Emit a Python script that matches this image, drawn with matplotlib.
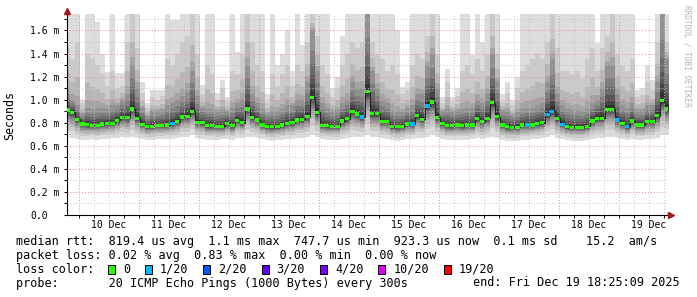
import numpy as np
import pandas as pd
import matplotlib
matplotlib.use("Agg")
import matplotlib.pyplot as plt
import matplotlib.dates as mdates
from matplotlib.patches import Rectangle

# 2-hour samples starting Dec 9 18:12 (values in ms)
median = [
    0.91, 0.89, 0.83, 0.79, 0.785, 0.778, 0.778, 0.79, 0.795, 0.795,
    0.82, 0.847, 0.845, 0.92, 0.84, 0.787, 0.766, 0.77, 0.775, 0.775,
    0.78, 0.795, 0.81, 0.85, 0.855, 0.90, 0.805, 0.80, 0.775, 0.775,
    0.77, 0.77, 0.795, 0.775, 0.82, 0.80, 0.92, 0.847, 0.824, 0.78,
    0.766, 0.766, 0.766, 0.78, 0.795, 0.80, 0.824, 0.83, 0.853, 1.02,
    0.89, 0.775, 0.775, 0.77, 0.77, 0.815, 0.835, 0.90, 0.876, 0.85,
    1.07, 0.88, 0.88, 0.81, 0.81, 0.766, 0.766, 0.77, 0.79, 0.79,
    0.86, 0.83, 0.945, 0.98, 0.847, 0.795, 0.775, 0.775, 0.78, 0.775,
    0.78, 0.78, 0.84, 0.81, 0.84, 0.974, 0.853, 0.78, 0.765, 0.76,
    0.76, 0.78, 0.78, 0.78, 0.795, 0.80, 0.87, 0.90, 0.84, 0.787,
    0.766, 0.76, 0.76, 0.76, 0.77, 0.815, 0.84, 0.84, 0.917, 0.917,
    0.824, 0.795, 0.766, 0.815, 0.78, 0.78, 0.81, 0.81, 0.86, 0.99,
    0.92]

loss = [0] * 121
for i in [21, 59, 69, 72, 92, 96, 97, 99, 110, 112]:
    loss[i] = 1

smoke_max = [
    1.74, 1.74, 1.74, 1.00, 1.74, 1.74, 1.67, 1.40, 1.24, 1.74,
    1.23, 1.23, 1.74, 1.74, 1.74, 1.15, 0.97, 1.08, 1.08, 1.08,
    1.74, 1.69, 1.69, 1.74, 1.74, 1.74, 1.74, 1.13, 1.74, 1.74,
    1.06, 1.17, 1.02, 1.74, 1.41, 1.74, 1.74, 1.74, 1.74, 1.74,
    1.05, 1.74, 1.30, 1.40, 1.60, 1.25, 1.74, 1.47, 1.74, 1.74,
    1.74, 1.74, 1.74, 1.10, 1.20, 1.55, 1.74, 1.74, 1.74, 1.74,
    1.74, 1.74, 1.74, 1.74, 1.74, 1.74, 1.60, 1.11, 1.15, 1.74,
    1.74, 1.74, 1.74, 1.74, 1.74, 1.02, 1.27, 1.02, 1.10, 1.74,
    1.74, 1.39, 1.74, 1.50, 1.74, 1.74, 1.74, 1.05, 1.15, 1.00,
    1.20, 1.74, 1.74, 1.74, 1.74, 1.74, 1.74, 1.74, 1.74, 1.74,
    1.74, 1.74, 1.74, 1.74, 1.74, 1.74, 1.49, 1.74, 1.74, 1.74,
    1.74, 1.74, 1.74, 1.74, 1.08, 1.10, 1.30, 1.17, 1.74, 1.74,
    1.74]

smoke_hi = [
    1.45, 1.35, 1.50, 0.97, 1.40, 1.35, 1.30, 1.22, 1.12, 1.25,
    1.10, 1.12, 1.50, 1.74, 1.45, 1.06, 0.93, 1.02, 1.00, 1.03,
    1.35, 1.30, 1.40, 1.50, 1.55, 1.74, 1.40, 1.05, 1.30, 1.22,
    1.00, 1.10, 0.98, 1.25, 1.22, 1.40, 1.74, 1.50, 1.30, 1.25,
    0.98, 1.22, 1.12, 1.22, 1.30, 1.12, 1.30, 1.25, 1.50, 1.74,
    1.55, 1.30, 1.22, 1.02, 1.10, 1.30, 1.40, 1.50, 1.45, 1.50,
    1.74, 1.50, 1.40, 1.35, 1.25, 1.30, 1.22, 1.05, 1.08, 1.30,
    1.40, 1.35, 1.55, 1.74, 1.40, 0.97, 1.15, 0.98, 1.03, 1.25,
    1.30, 1.22, 1.35, 1.25, 1.40, 1.74, 1.40, 0.98, 1.06, 0.95,
    1.10, 1.25, 1.30, 1.35, 1.40, 1.35, 1.50, 1.74, 1.45, 1.25,
    1.25, 1.22, 1.25, 1.18, 1.35, 1.45, 1.25, 1.45, 1.55, 1.74,
    1.40, 1.30, 1.25, 1.35, 1.02, 1.04, 1.15, 1.08, 1.50, 1.74,
    1.50]

smoke_mid = [
    1.05, 1.00, 0.95, 0.88, 0.93, 0.92, 0.93, 0.93, 0.92, 0.95,
    0.95, 1.00, 1.05, 1.30, 1.10, 0.93, 0.86, 0.90, 0.90, 0.91,
    0.95, 0.97, 1.00, 1.03, 1.07, 1.25, 1.03, 0.93, 0.92, 0.92,
    0.90, 0.91, 0.90, 0.93, 0.97, 1.00, 1.30, 1.05, 0.97, 0.92,
    0.88, 0.90, 0.90, 0.92, 0.95, 0.95, 1.00, 1.00, 1.15, 1.60,
    1.25, 0.97, 0.93, 0.90, 0.91, 0.97, 1.00, 1.15, 1.10, 1.10,
    1.74, 1.25, 1.10, 1.00, 0.97, 0.91, 0.90, 0.90, 0.93, 0.95,
    1.05, 1.05, 1.30, 1.40, 1.10, 0.90, 0.92, 0.90, 0.91, 0.92,
    0.93, 0.93, 1.00, 0.97, 1.05, 1.40, 1.15, 0.91, 0.90, 0.87,
    0.89, 0.92, 0.93, 0.93, 0.95, 0.97, 1.15, 1.35, 1.05, 0.95,
    0.92, 0.91, 0.91, 0.90, 0.92, 0.97, 1.00, 1.10, 1.30, 1.30,
    1.05, 0.95, 0.93, 0.97, 0.91, 0.91, 0.95, 0.95, 1.15, 1.74,
    1.35]

smoke_min = [
    0.68, 0.67, 0.66, 0.65, 0.65, 0.66, 0.65, 0.66, 0.66, 0.67,
    0.67, 0.68, 0.67, 0.68, 0.67, 0.66, 0.65, 0.65, 0.66, 0.66,
    0.66, 0.66, 0.67, 0.68, 0.68, 0.69, 0.67, 0.66, 0.65, 0.65,
    0.65, 0.66, 0.66, 0.65, 0.67, 0.67, 0.68, 0.68, 0.67, 0.66,
    0.65, 0.64, 0.65, 0.65, 0.66, 0.66, 0.67, 0.67, 0.68, 0.69,
    0.68, 0.66, 0.65, 0.65, 0.65, 0.66, 0.67, 0.68, 0.68, 0.68,
    0.69, 0.68, 0.68, 0.67, 0.66, 0.65, 0.64, 0.65, 0.66, 0.66,
    0.67, 0.67, 0.68, 0.69, 0.68, 0.66, 0.65, 0.65, 0.65, 0.65,
    0.65, 0.66, 0.67, 0.66, 0.67, 0.68, 0.67, 0.65, 0.64, 0.64,
    0.64, 0.65, 0.65, 0.66, 0.66, 0.67, 0.68, 0.69, 0.67, 0.66,
    0.65, 0.64, 0.64, 0.64, 0.65, 0.66, 0.67, 0.67, 0.68, 0.68,
    0.67, 0.66, 0.65, 0.66, 0.65, 0.65, 0.66, 0.66, 0.67, 0.69,
    0.69]

loss_labels = ['0', '1/20', '2/20', '3/20', '4/20', '10/20', '19/20']
loss_colors = ['#26ff00', '#00b8ff', '#0059ff', '#5e00ff', '#7e00ff', '#dd00ff', '#ff0000']

legend_lines = [
    'median rtt:  819.4 us avg  1.1 ms max  747.7 us min  923.3 us now  0.1 ms sd    15.2  am/s',
    'packet loss: 0.02 % avg  0.83 % max  0.00 % min  0.00 % now',
]
probe_text = 'probe:       20 ICMP Echo Pings (1000 Bytes) every 300s'
end_text = 'end: Fri Dec 19 18:25:09 2025'

MONO = 'DejaVu Sans Mono'
W, H = 697, 297
fig = plt.figure(figsize=(W / 100, H / 100), dpi=100)
fig.patch.set_facecolor('white')
ax = fig.add_axes([67 / W, 1 - 215 / H, 601 / W, 201 / H])

n = len(median)
edges = pd.date_range('2025-12-09 18:12', periods=n + 1, freq='2h')

def ext(a):
    a = np.asarray(a, dtype=float)
    return np.append(a, a[-1])

med = np.asarray(median)
mx, hi, mid, mn = (np.asarray(a) for a in (smoke_max, smoke_hi, smoke_mid, smoke_min))

# smoke bands, lightest (outer) first, like smokeping
lo_frac = [0, 0.25, 0.42, 0.55, 0.65, 0.73, 0.80, 0.86, 0.91, 0.95]
uppers = [mx, hi, mid + (hi - mid) * 0.45, mid + (hi - mid) * 0.15, mid]
for f in [0.7, 0.5, 0.33, 0.2, 0.1]:
    uppers.append(med + (mid - med) * f)
for k in range(10):
    g = int(190 / 10 * (9 - k)) + 50
    lower = mn + (med - mn) * lo_frac[k]
    ax.fill_between(edges, ext(lower), ext(uppers[k]), step='post',
                    color='#%02x%02x%02x' % (g, g, g), linewidth=0, zorder=1)

ax.step(edges, ext(med), where='post', color='#202020', lw=0.7, zorder=3)
sw = 0.014
ax.bar(edges[:-1], 2 * sw, bottom=med - sw, width=2 / 24, align='edge',
       color=[loss_colors[l] for l in loss], linewidth=0, zorder=4)

ax.set_xlim(pd.Timestamp('2025-12-09 19:12'), pd.Timestamp('2025-12-19 19:36'))
ax.set_ylim(0, 1.743)

for s in ['top', 'right']:
    ax.spines[s].set_visible(False)
for s in ['left', 'bottom']:
    ax.spines[s].set_color('black')
    ax.spines[s].set_linewidth(0.8)

ax.set_axisbelow(False)
ax.xaxis.set_major_locator(mdates.DayLocator())
ax.xaxis.set_minor_locator(mdates.HourLocator(byhour=[6, 12, 18]))
ax.tick_params(axis='x', which='both', labelbottom=False, length=2, width=0.7)

ax.set_yticks(np.arange(0, 1.61, 0.2))
ax.set_yticklabels(['0.0'] + ['%.1f m' % v for v in np.arange(0.2, 1.61, 0.2)],
                   family=MONO, fontsize=7)
ax.set_yticks(np.arange(0.1, 1.75, 0.2), minor=True)
ax.tick_params(axis='y', which='both', length=2, width=0.7, pad=24.5)
plt.setp(ax.get_yticklabels(), ha='left')

ax.grid(which='major', color='#e49090', linestyle=(0, (1, 2)), linewidth=0.7)
ax.grid(which='minor', color='#c4c4c4', linestyle=(0, (1, 2)), linewidth=0.7)

sec = ax.secondary_xaxis('bottom')
sec.xaxis.set_major_locator(mdates.HourLocator(byhour=[12]))
sec.xaxis.set_major_formatter(mdates.DateFormatter('%d %b'))
sec.tick_params(length=0, pad=3.5, labelsize=7)
for lbl in sec.get_xticklabels():
    lbl.set_family(MONO)
sec.spines['bottom'].set_visible(False)

# axis arrows
ax.plot([0], [1.017], marker='^', markersize=4, color='#a01818', transform=ax.transAxes,
        clip_on=False, zorder=6)
ax.plot([1.005], [0], marker='>', markersize=4, color='#a01818', transform=ax.transAxes,
        clip_on=False, zorder=6)

fig.text(10 / W, 1 - 115 / H, 'Seconds', rotation=90, ha='center', va='center',
         family=MONO, fontsize=8.4)
fig.text(687 / W, 1 - 5 / H, 'RRDTOOL / TOBI OETIKER', rotation=270, ha='center', va='top',
         family=MONO, fontsize=5.6, color='#b4b4b4')

FS = 8.45
CW = 7.07
for row, line in enumerate(legend_lines):
    fig.text(16 / W, 1 - (241.5 + 14 * row) / H, line, family=MONO, fontsize=FS,
             va='center', ha='left')

fig.text(16 / W, 1 - 269.5 / H, 'loss color:', family=MONO, fontsize=FS, va='center', ha='left')
x = 108
for lab, col in zip(loss_labels, loss_colors):
    fig.add_artist(Rectangle((x / W, 1 - 274 / H), 7 / W, 9 / H, transform=fig.transFigure,
                             facecolor=col, edgecolor='black', linewidth=0.7))
    fig.text((x + 15) / W, 1 - 269.5 / H, lab, family=MONO, fontsize=FS, va='center', ha='left')
    x = x + 15 + len(lab) * CW + 15

fig.text(16 / W, 1 - 283 / H, probe_text, family=MONO, fontsize=FS, va='center', ha='left')
fig.text(680 / W, 1 - 283 / H, end_text, family=MONO, fontsize=FS, va='center', ha='right')

fig.savefig('out.png', dpi=100, facecolor='white')
